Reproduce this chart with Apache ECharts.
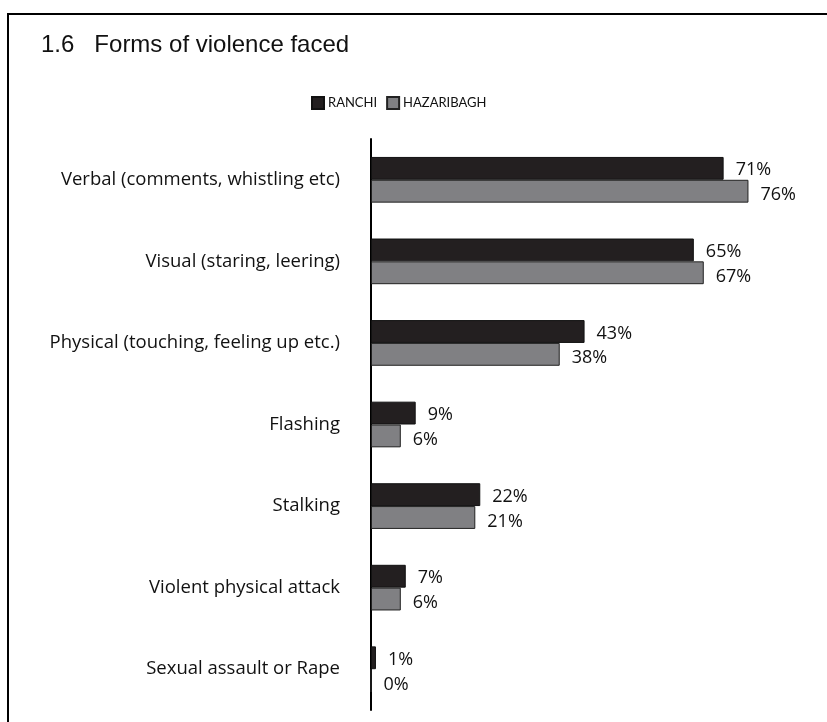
<!DOCTYPE html>
<html><head><meta charset="utf-8">
<script src="https://cdn.jsdelivr.net/npm/echarts@6/dist/echarts.min.js"></script>
<style>html,body{margin:0;padding:0;background:#fff}#c{width:827px;height:722px}</style>
</head><body><div id="c"></div>
<script>
const categories = ["Verbal (comments, whistling etc)", "Visual (staring, leering)", "Physical (touching, feeling up etc.)", "Flashing", "Stalking", "Violent physical attack", "Sexual assault or Rape"];
const ranchi = [71, 65, 43, 9, 22, 7, 1];
const hazaribagh = [76, 67, 38, 6, 21, 6, 0];
const seriesNames = ["RANCHI", "HAZARIBAGH"];

const chart = echarts.init(document.getElementById('c'), null, {renderer: 'canvas'});
const font = '"Open Sans", Lato, sans-serif';
function lbl(offsetY) {
  return {show: true, position: 'right', distance: 12, offset: [0, offsetY], formatter: '{c}%', color: '#111', fontSize: 18, fontFamily: font};
}
chart.setOption({
  animation: false,
  title: {text: '1.6   Forms of violence faced', left: 36, top: 28, textStyle: {fontFamily: '"Liberation Sans", Arial, sans-serif', fontWeight: 'normal', fontSize: 24, color: '#111'}},
  legend: {data: seriesNames, left: 306, top: 91, itemWidth: 12, itemHeight: 12, itemGap: 9, icon: 'rect',
    textStyle: {fontFamily: 'Lato, sans-serif', fontSize: 13, color: '#111', padding: [0, 0, 0, -1]}},
  grid: {left: 371, top: 139, width: 447, height: 571, containLabel: false},
  xAxis: {type: 'value', min: 0, max: 90, show: false},
  yAxis: {type: 'category', data: categories, inverse: true,
    axisLine: {show: true, lineStyle: {color: '#000', width: 2}}, axisTick: {show: false},
    axisLabel: {margin: 31, color: '#111', fontSize: 18.5, fontFamily: font}},
  series: [
    {name: seriesNames[0], type: 'bar', data: ranchi, barGap: '0%', barCategoryGap: '44%',
      itemStyle: {color: '#231f20', borderColor: '#111', borderWidth: 1}, label: lbl(2)},
    {name: seriesNames[1], type: 'bar', data: hazaribagh,
      itemStyle: {color: '#808083', borderColor: '#222', borderWidth: 1}, label: lbl(4)}
  ],
  graphic: [
    {type: 'line', shape: {x1: 7, y1: 14, x2: 827, y2: 14}, style: {stroke: '#000', lineWidth: 2}, silent: true},
    {type: 'line', shape: {x1: 8, y1: 13, x2: 8, y2: 722}, style: {stroke: '#000', lineWidth: 2}, silent: true}
  ]
});
</script></body></html>
